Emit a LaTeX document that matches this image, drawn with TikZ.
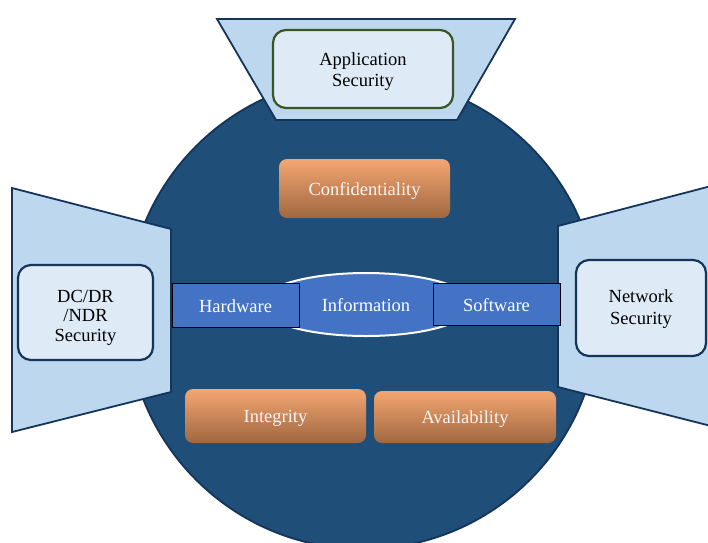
\documentclass[tikz,border=0pt]{standalone}
\usepackage{fontspec}
\setmainfont{Liberation Serif}
\usetikzlibrary{shapes.geometric}
\definecolor{circfill}{HTML}{1F4E79}
\definecolor{navy}{HTML}{15345A}
\definecolor{trapfill}{HTML}{BDD7EE}
\definecolor{boxfill}{HTML}{DEEBF7}
\definecolor{appgreen}{HTML}{375623}
\definecolor{bandblue}{HTML}{4472C4}
\definecolor{orangetop}{HTML}{F4A672}
\definecolor{orangebot}{HTML}{A0673F}
\tikzset{
  txt/.style={font=\fontsize{18.5}{21}\selectfont, align=center, inner sep=0pt},
  trap/.style={fill=trapfill, draw=navy, line width=1.8pt, line join=miter},
  secbox/.style={rectangle, rounded corners=13pt, fill=boxfill, draw=navy, line width=2.2pt},
  band/.style={rectangle, fill=bandblue, draw=black, line width=0.9pt},
  orangebox/.style={rectangle, rounded corners=8pt, top color=orangetop, bottom color=orangebot, draw=none},
  wtxt/.style={txt, text=white!96!black},
}
\begin{document}
\begin{tikzpicture}[x=1pt, y=-1pt]
\useasboundingbox (0,0) rectangle (708,542);
\clip (0,0) rectangle (708,542);
% main disc
\fill[circfill, draw=navy, line width=1.8pt] (363,313) circle (236pt);
% trapezoids
\draw[trap] (217,19) -- (515,19) -- (457,120) -- (276,120) -- cycle;
\draw[trap] (12,188) -- (171,229) -- (171,392) -- (12,432) -- cycle;
\fill[trapfill] (715,185) -- (558,226) -- (558,387) -- (715,427) -- cycle;
\draw[navy, line width=1.8pt] (715,185) -- (558,226) -- (558,387) -- (715,427);
% security boxes
\node[secbox, draw=appgreen, minimum width=180pt, minimum height=78pt] (app) at (363,69) {};
\node[txt, yshift=-3pt] (appt) at (app.center) {Application\\Security};
\node[secbox, minimum width=135pt, minimum height=95pt] (dc) at (85.5,312.5) {};
\node[txt, yshift=-5pt, font=\fontsize{18.5}{19.5}\selectfont] (dct) at (dc.center) {DC/DR\\/NDR\\Security};
\node[secbox, minimum width=130pt, minimum height=96pt] (net) at (641,308) {};
\node[txt, yshift=-1pt, font=\fontsize{18.5}{22}\selectfont] (nett) at (net.center) {Network\\Security};
% information band
\node[ellipse, fill=bandblue, draw=white, line width=2pt, minimum width=214pt, minimum height=63pt] (infoshape) at (366,304.5) {};
\node[band, minimum width=127pt, minimum height=44pt] (hw) at (235.5,305) {};
\node[band, minimum width=127pt, minimum height=42pt] (sw) at (496.5,304) {};
\node[wtxt, text=white, yshift=-1pt] (hwt) at (hw.center) {Hardware};
\node[wtxt, text=white, yshift=-1pt] (swt) at (sw.center) {Software};
\node[wtxt, text=white, yshift=-1pt] (info) at (infoshape.center) {Information};
% CIA boxes
\node[orangebox, minimum width=171pt, minimum height=59pt] (conf) at (364.5,188.5) {};
\node[wtxt, yshift=-2pt] (conft) at (conf.center) {Confidentiality};
\node[orangebox, minimum width=181pt, minimum height=54pt] (integ) at (275.5,416) {};
\node[wtxt, yshift=-2pt] (integt) at (integ.center) {Integrity};
\node[orangebox, minimum width=182pt, minimum height=52pt] (avail) at (465,417) {};
\node[wtxt, yshift=-2pt] (availt) at (avail.center) {Availability};
\end{tikzpicture}
\end{document}
